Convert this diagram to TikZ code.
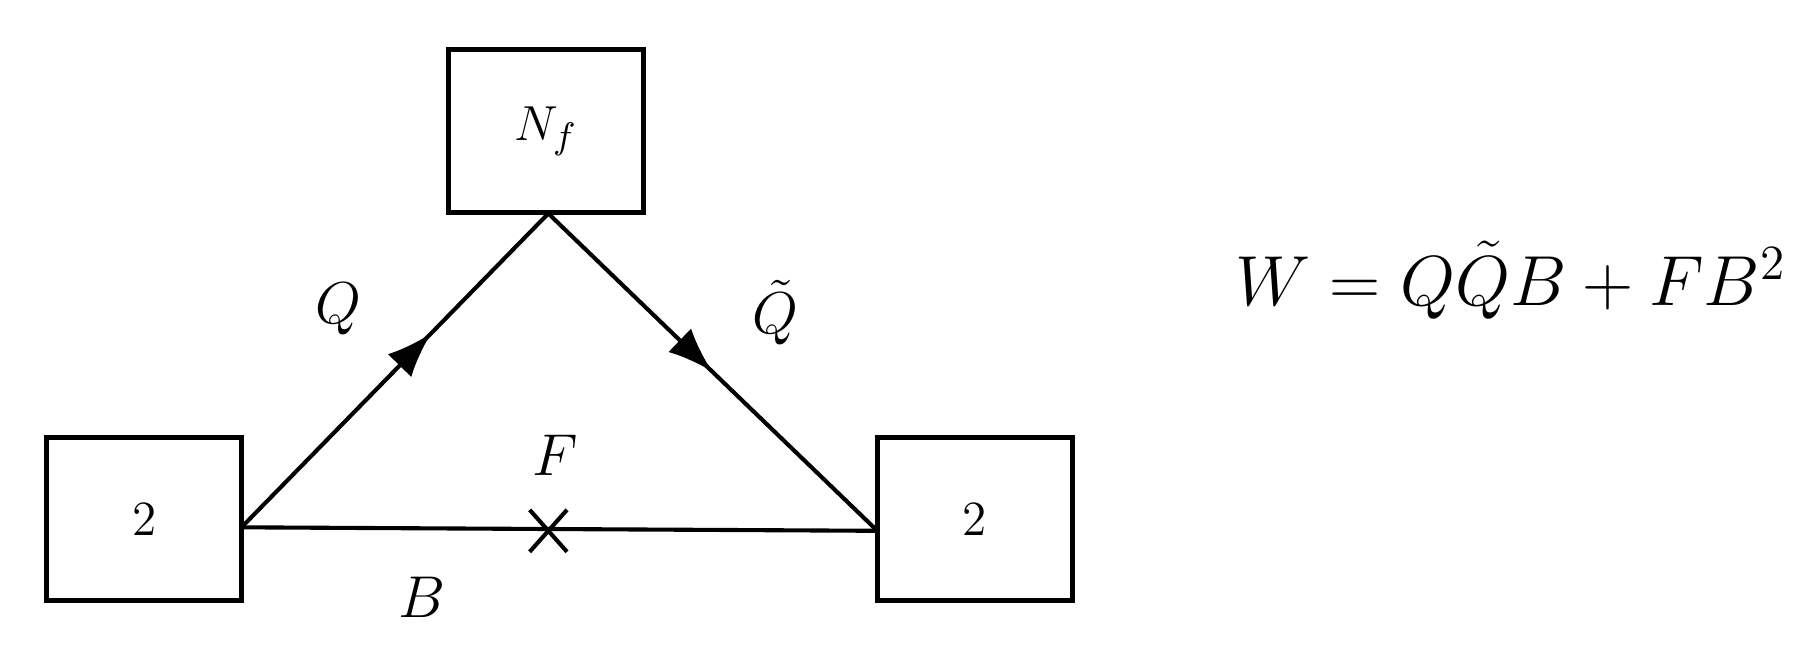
\documentclass[tikz,border=0pt]{standalone}
\usetikzlibrary{decorations.markings,arrows.meta,calc}
\begin{document}
\begin{tikzpicture}[x=0.01cm,y=-0.01cm,
  gbox/.style={draw,line width=1.2pt,minimum width=1.67cm,minimum height=1.4cm,inner sep=0pt,font=\fontsize{13}{15}\selectfont},
  lbl/.style={font=\fontsize{14}{16}\selectfont},
  edge/.style={line width=1pt},
  midarrow/.style={postaction={decorate},decoration={markings,mark=at position #1 with {\arrow{Latex[length=11pt,width=8pt]}}}}]
\useasboundingbox (0,0) rectangle (1560,559);
\node[gbox] (L) at (123.5,445) {$2$};
\node[gbox] (R) at (835.5,445) {$2$};
\node[gbox] (T) at (468,112.5) {$N_f$};
\coordinate (tb) at (470,183);
\coordinate (lp) at (207,452);
\coordinate (rp) at (752,455);
\draw[edge,midarrow=0.62] (lp) -- (tb);
\draw[edge,midarrow=0.5] (tb) -- (rp);
\draw[edge] (lp) -- (rp);
\node[draw=none,inner sep=0pt,minimum size=0pt] (x) at (470,455) {};
\draw[edge] ($(x)+(-16,-18)$) -- ($(x)+(16,18)$);
\draw[edge] ($(x)+(-16,18)$) -- ($(x)+(16,-18)$);
\node[lbl] (q) at (290,265) {$Q$};
\node[lbl] (qt) at (665,268) {$\tilde Q$};
\node[lbl] (f) at (476,390) {$F$};
\node[lbl] (b) at (362,512) {$B$};
\node[font=\fontsize{18.5}{22}\selectfont] (w) at (1295,240) {$W = Q\tilde Q B + F B^2$};
\end{tikzpicture}
\end{document}
